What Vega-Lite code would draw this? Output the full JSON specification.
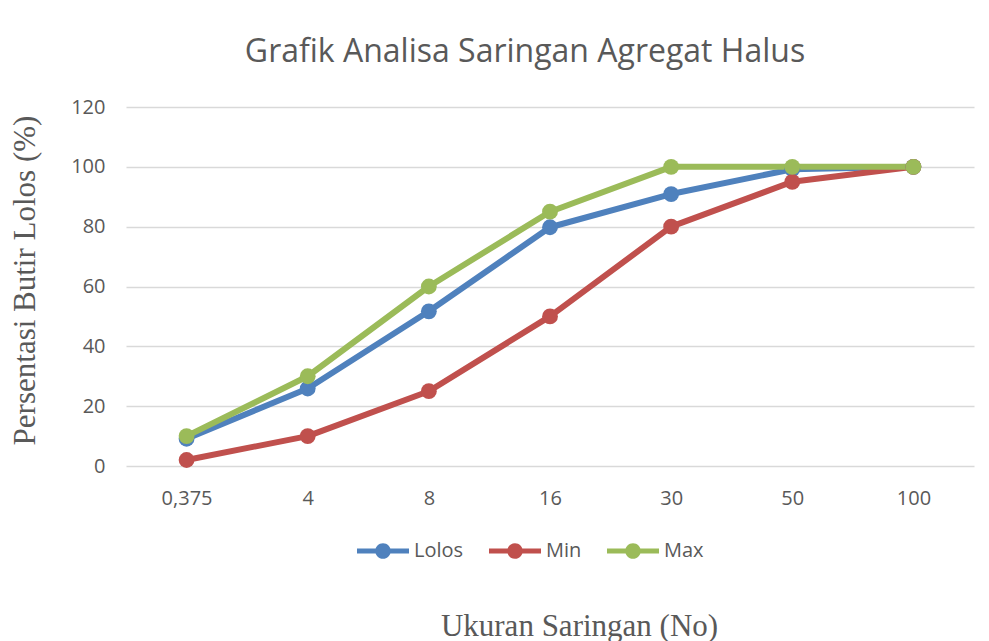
{
  "$schema": "https://vega.github.io/schema/vega-lite/v6.json",
  "width": 848,
  "height": 359,
  "autosize": {"type": "none"},
  "padding": {"left": 126, "top": 107, "right": 15, "bottom": 175},
  "background": "white",
  "title": {
    "text": "Grafik Analisa Saringan Agregat Halus",
    "font": "Open Sans",
    "fontSize": 32,
    "fontWeight": "normal",
    "color": "#595959",
    "anchor": "middle",
    "frame": "group",
    "baseline": "alphabetic",
    "offset": 3,
    "dx": -25
  },
  "data": {
    "values": [
      {"ukuran": "0,375", "seri": "Lolos", "nilai": 9.1},
      {"ukuran": "4", "seri": "Lolos", "nilai": 25.9},
      {"ukuran": "8", "seri": "Lolos", "nilai": 51.7},
      {"ukuran": "16", "seri": "Lolos", "nilai": 79.8},
      {"ukuran": "30", "seri": "Lolos", "nilai": 90.9},
      {"ukuran": "50", "seri": "Lolos", "nilai": 99.2},
      {"ukuran": "100", "seri": "Lolos", "nilai": 100},
      {"ukuran": "0,375", "seri": "Min", "nilai": 2},
      {"ukuran": "4", "seri": "Min", "nilai": 10},
      {"ukuran": "8", "seri": "Min", "nilai": 25},
      {"ukuran": "16", "seri": "Min", "nilai": 50},
      {"ukuran": "30", "seri": "Min", "nilai": 80},
      {"ukuran": "50", "seri": "Min", "nilai": 95},
      {"ukuran": "100", "seri": "Min", "nilai": 100},
      {"ukuran": "0,375", "seri": "Max", "nilai": 10},
      {"ukuran": "4", "seri": "Max", "nilai": 30},
      {"ukuran": "8", "seri": "Max", "nilai": 60},
      {"ukuran": "16", "seri": "Max", "nilai": 85},
      {"ukuran": "30", "seri": "Max", "nilai": 100},
      {"ukuran": "50", "seri": "Max", "nilai": 100},
      {"ukuran": "100", "seri": "Max", "nilai": 100}
    ]
  },
  "encoding": {
    "x": {
      "field": "ukuran",
      "type": "ordinal",
      "sort": null,
      "scale": {"type": "point", "padding": 0.5},
      "axis": {
        "title": "Ukuran Saringan (No)",
        "titleFont": "Liberation Serif",
        "titleFontSize": 31,
        "titleFontWeight": "normal",
        "titleColor": "#595959",
        "titleBaseline": "alphabetic",
        "titleX": 453,
        "titleY": 169,
        "labelFont": "Open Sans",
        "labelFontSize": 20,
        "labelColor": "#595959",
        "labelAngle": 0,
        "labelPadding": 22,
        "ticks": false,
        "tickSize": 0,
        "domain": false,
        "grid": false
      }
    },
    "y": {
      "field": "nilai",
      "type": "quantitative",
      "scale": {"domain": [0, 120], "nice": false},
      "axis": {
        "values": [0, 20, 40, 60, 80, 100, 120],
        "title": "Persentasi Butir Lolos (%)",
        "titleFont": "Liberation Serif",
        "titleFontSize": 31,
        "titleFontWeight": "normal",
        "titleColor": "#595959",
        "titleAngle": -90,
        "titleBaseline": "alphabetic",
        "titleAlign": "center",
        "titleX": -92,
        "titleY": 173,
        "labelFont": "Open Sans",
        "labelFontSize": 20,
        "labelColor": "#595959",
        "labelPadding": 21,
        "ticks": false,
        "tickSize": 0,
        "domain": false,
        "grid": true,
        "gridColor": "#D9D9D9",
        "gridWidth": 1.5
      }
    },
    "color": {
      "field": "seri",
      "type": "nominal",
      "sort": ["Lolos", "Min", "Max"],
      "scale": {"domain": ["Lolos", "Min", "Max"], "range": ["#4F81BD", "#C0504D", "#9BBB59"]},
      "legend": {
        "title": null,
        "orient": "none",
        "direction": "horizontal",
        "legendX": 231,
        "legendY": 418,
        "symbolType": "M-1,-0.1H1V0.1H-1Z M-0.3,0A0.3,0.3 0 1,1 0.3,0A0.3,0.3 0 1,1 -0.3,0Z",
        "symbolSize": 2704,
        "symbolStrokeWidth": 0,
        "symbolOpacity": 1,
        "labelFont": "Open Sans",
        "labelFontSize": 20,
        "labelColor": "#595959",
        "labelOffset": 5,
        "columnPadding": 25
      }
    }
  },
  "layer": [
    {
      "mark": {"type": "line", "strokeWidth": 6, "strokeJoin": "round", "strokeCap": "round"}
    },
    {
      "mark": {"type": "point", "shape": "circle", "filled": true, "size": 250, "opacity": 1}
    }
  ],
  "config": {
    "view": {"stroke": null}
  }
}
